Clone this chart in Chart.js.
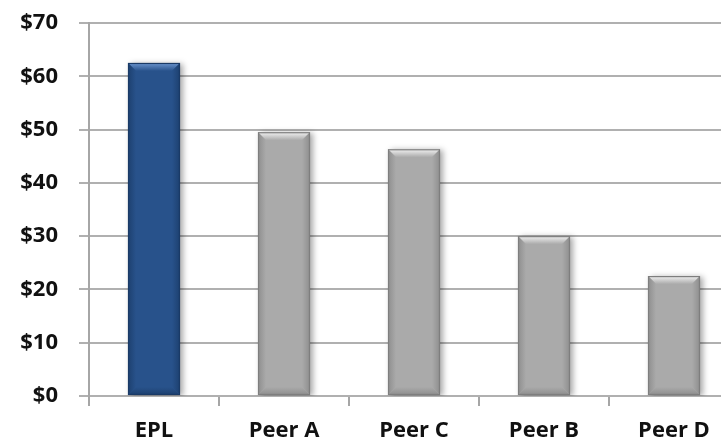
<!DOCTYPE html>
<html>
<head>
<meta charset="utf-8">
<script src="https://cdn.jsdelivr.net/npm/chart.js@4/dist/chart.umd.min.js"></script>
<style>
  html, body { margin: 0; padding: 0; background: #fff; overflow: hidden; }
  #wrap { width: 721px; height: 440px; overflow: hidden; position: relative; }
  #box { width: 739px; height: 440px; position: absolute; left: 0; top: 0; }
</style>
</head>
<body>
<div id="wrap"><div id="box"><canvas id="c"></canvas></div></div>
<script>
// Price per share, company vs. peer group
const categories = ['EPL', 'Peer A', 'Peer C', 'Peer B', 'Peer D'];
const prices = [62.5, 49.5, 46.3, 30.0, 22.5];
const yTicks = [0, 10, 20, 30, 40, 50, 60, 70];

const palette = {
  blue:  { fill: '#28528b', light: '#6b95cf', dark: '#1d406f', edge: '#1a3a66' },
  gray:  { fill: '#aaaaaa', light: '#f2f2f2', dark: '#8e8e8e', edge: '#7e7e7e' }
};
const barTheme = categories.map((c, i) => i === 0 ? palette.blue : palette.gray);

// Soft drop shadow under the bars plus a bevelled top/sides
const bevelPlugin = {
  id: 'bevel',
  beforeDatasetsDraw(chart) {
    const ctx = chart.ctx;
    ctx.save();
    ctx.shadowColor = 'rgba(0,0,0,0.35)';
    ctx.shadowBlur = 6;
    ctx.shadowOffsetX = 3;
    ctx.shadowOffsetY = 1;
  },
  afterDatasetsDraw(chart) {
    const ctx = chart.ctx;
    ctx.restore();
    const meta = chart.getDatasetMeta(0);
    meta.data.forEach((bar, i) => {
      const t = barTheme[i];
      const p = bar.getProps(['x', 'y', 'base', 'width'], true);
      const L = p.x - p.width / 2, R = p.x + p.width / 2;
      const T = p.y, B = p.base;
      const b = 8;
      ctx.save();
      // top face
      let g = ctx.createLinearGradient(0, T, 0, T + b);
      g.addColorStop(0, t.light);
      g.addColorStop(1, t.fill);
      ctx.fillStyle = g;
      ctx.beginPath();
      ctx.moveTo(L, T); ctx.lineTo(R, T); ctx.lineTo(R - b, T + b); ctx.lineTo(L + b, T + b);
      ctx.closePath(); ctx.fill();
      // left face
      g = ctx.createLinearGradient(L, 0, L + b, 0);
      g.addColorStop(0, t.dark);
      g.addColorStop(1, t.fill);
      ctx.fillStyle = g;
      ctx.beginPath();
      ctx.moveTo(L, T); ctx.lineTo(L + b, T + b); ctx.lineTo(L + b, B - b); ctx.lineTo(L, B);
      ctx.closePath(); ctx.fill();
      // right face
      g = ctx.createLinearGradient(R - b, 0, R, 0);
      g.addColorStop(0, t.fill);
      g.addColorStop(1, t.dark);
      ctx.fillStyle = g;
      ctx.beginPath();
      ctx.moveTo(R, T); ctx.lineTo(R - b, T + b); ctx.lineTo(R - b, B - b); ctx.lineTo(R, B);
      ctx.closePath(); ctx.fill();
      // bottom face
      g = ctx.createLinearGradient(0, B - b, 0, B);
      g.addColorStop(0, t.fill);
      g.addColorStop(1, t.dark);
      ctx.fillStyle = g;
      ctx.beginPath();
      ctx.moveTo(L, B); ctx.lineTo(R, B); ctx.lineTo(R - b, B - b); ctx.lineTo(L + b, B - b);
      ctx.closePath(); ctx.fill();
      // outline
      ctx.strokeStyle = t.edge;
      ctx.lineWidth = 1.2;
      ctx.strokeRect(L + 0.5, T + 0.5, R - L - 1, B - T - 1);
      ctx.restore();
    });
  }
};

const labelFont = { family: '"Open Sans", sans-serif', size: 22, weight: 'bold' };

new Chart(document.getElementById('c'), {
  type: 'bar',
  data: {
    labels: categories,
    datasets: [{
      data: prices,
      backgroundColor: barTheme.map(t => t.fill),
      borderWidth: 0,
      categoryPercentage: 1.0,
      barPercentage: 0.4
    }]
  },
  options: {
    responsive: true,
    maintainAspectRatio: false,
    animation: false,
    layout: { padding: { top: 23, left: 0, right: 0, bottom: 0 } },
    plugins: { legend: { display: false }, tooltip: { enabled: false } },
    scales: {
      x: {
        grid: { display: true, drawOnChartArea: false, drawTicks: true, tickLength: 10, color: '#a6a6a6', lineWidth: 2, offset: true },
        border: { display: false },
        ticks: { color: '#111', font: labelFont, padding: 12, maxRotation: 0 },
        afterFit(scale) { scale.height = 44; scale.paddingLeft = 0; scale.paddingRight = 0; }
      },
      y: {
        min: 0, max: 70,
        afterBuildTicks(scale) { scale.ticks = yTicks.map(v => ({ value: v })); },
        grid: { color: '#b0b0b0', lineWidth: 2, tickLength: 10 },
        border: { display: true, color: '#a6a6a6', width: 2 },
        ticks: { color: '#111', font: labelFont, padding: 21, callback: v => '$' + v },
        afterFit(scale) { scale.width = 89; scale.paddingTop = 0; scale.paddingBottom = 0; }
      }
    }
  },
  plugins: [bevelPlugin]
});
</script>
</body>
</html>
